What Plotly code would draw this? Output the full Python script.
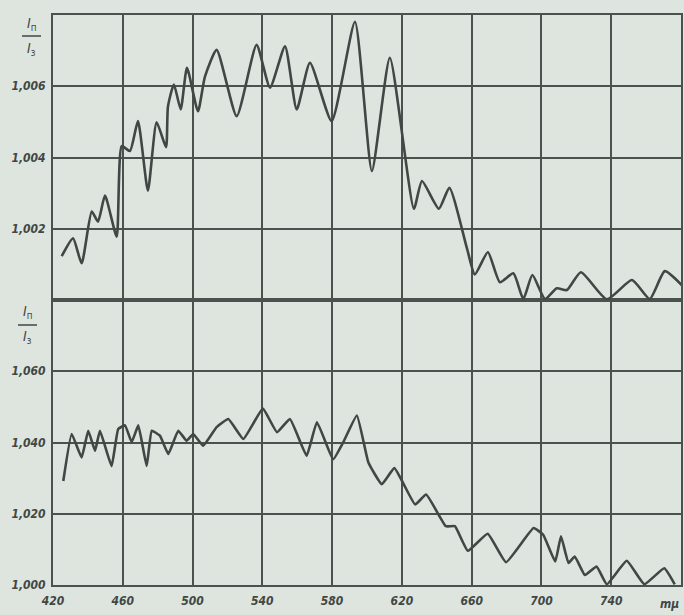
import plotly.graph_objects as go

# ---- data ----
wl_upper = [425.0, 431.5, 436.4, 442.2, 445.8, 449.8, 456.5, 459.4, 464.1, 468.7,
            474.4, 479.4, 484.8, 485.9, 489.3, 493.2, 496.8, 503.1, 507.1, 513.8,
            525.3, 536.7, 544.4, 553.0, 559.7, 567.3, 579.7, 593.1, 602.8, 613.1,
            626.9, 631.5, 641.2, 647.2, 657.3, 661.8, 669.3, 676.2, 683.9, 689.6,
            694.8, 702.0, 708.8, 714.6, 722.6, 737.5, 751.9, 762.1, 770.7, 781.0]
ratio_upper = [1.00123, 1.00173, 1.00103, 1.00248, 1.00220, 1.00293, 1.00178, 1.00432, 1.00418, 1.00502,
               1.00307, 1.00499, 1.00429, 1.00543, 1.00605, 1.00535, 1.00652, 1.00530, 1.00627, 1.00702,
               1.00516, 1.00716, 1.00596, 1.00712, 1.00535, 1.00666, 1.00502, 1.00781, 1.00362, 1.00680,
               1.00256, 1.00334, 1.00256, 1.00315, 1.00145, 1.00072, 1.00134, 1.00050, 1.00075, 1.00003,
               1.00070, 1.00003, 1.00033, 1.00028, 1.00078, 1.00002, 1.00056, 1.00003, 1.00081, 1.00039]

wl_lower = [425.9, 430.7, 436.4, 440.2, 444.1, 446.9, 453.6, 457.4, 461.3, 465.1,
            468.9, 473.7, 476.6, 481.3, 486.1, 491.8, 496.6, 500.4, 506.1, 513.8,
            520.5, 529.1, 540.3, 548.4, 555.8, 565.4, 571.3, 580.6, 586.4, 594.2,
            600.8, 608.5, 615.7, 627.6, 633.9, 645.2, 650.4, 657.8, 669.2, 679.7,
            695.5, 701.0, 707.9, 711.2, 715.5, 719.1, 724.9, 731.6, 737.5, 748.9,
            759.0, 770.4, 776.4]
ratio_lower = [1.0292, 1.0424, 1.0358, 1.0433, 1.0377, 1.0433, 1.0334, 1.0438, 1.0448, 1.0401,
               1.0448, 1.0334, 1.0433, 1.0419, 1.0368, 1.0433, 1.0405, 1.0424, 1.0391, 1.0443,
               1.0466, 1.0410, 1.0495, 1.0429, 1.0466, 1.0363, 1.0457, 1.0353, 1.0401, 1.0476,
               1.0344, 1.0283, 1.0328, 1.0226, 1.0254, 1.0165, 1.0165, 1.0096, 1.0144, 1.0064,
               1.0160, 1.0141, 1.0066, 1.0137, 1.0062, 1.0080, 1.0028, 1.0052, 1.0002, 1.0068,
               1.0002, 1.0047, 1.0002]

x_tickvals = [420, 460, 500, 540, 580, 620, 660, 700, 740, 780]
x_ticktext = ["420", "460", "500", "540", "580", "620", "660", "700", "740", ""]
x_unit = "mμ"
upper_tickvals = [1.000, 1.002, 1.004, 1.006, 1.008]
upper_ticktext = ["", "1,002", "1,004", "1,006", ""]
lower_tickvals = [1.000, 1.020, 1.040, 1.060, 1.080]
lower_ticktext = ["1,000", "1,020", "1,040", "1,060", ""]

# ---- styling ----
BG = "#dee5df"
INK = "#414744"
GRID = "#4b514e"
FAM = "DejaVu Sans Condensed, DejaVu Sans"
FONT = dict(family=FAM, size=12, color=INK, style="italic", weight="bold")

fig = go.Figure()
fig.add_trace(go.Scatter(x=wl_lower, y=ratio_lower, mode="lines", xaxis="x", yaxis="y",
                         line=dict(color=INK, width=2.6, shape="spline", smoothing=0.35),
                         showlegend=False))
fig.add_trace(go.Scatter(x=wl_upper, y=ratio_upper, mode="lines", xaxis="x2", yaxis="y2",
                         line=dict(color=INK, width=2.6, shape="spline", smoothing=0.55),
                         showlegend=False))

common_x = dict(range=[420, 780], tickmode="array", tickvals=x_tickvals, showgrid=True,
                gridcolor=GRID, gridwidth=2, showline=True, linecolor=GRID, linewidth=2,
                mirror=True, zeroline=False, ticks="", fixedrange=True, automargin=False)
common_y = dict(showgrid=True, gridcolor=GRID, gridwidth=2, showline=True, linecolor=GRID,
                linewidth=2, mirror=True, zeroline=False, ticks="", tickfont=FONT,
                fixedrange=True, automargin=False, ticklabelstandoff=3)

fig.update_layout(
    width=684, height=615,
    margin=dict(l=53, r=3, t=15, b=30),
    paper_bgcolor=BG, plot_bgcolor=BG,
    xaxis=dict(**common_x, domain=[0, 1], anchor="y", ticktext=x_ticktext,
               tickfont=FONT, ticklabelstandoff=4),
    xaxis2=dict(**common_x, domain=[0, 1], anchor="y2", matches="x", showticklabels=False),
    yaxis=dict(**common_y, domain=[0, 0.5], anchor="x", range=[1.000, 1.080],
               tickmode="array", tickvals=lower_tickvals, ticktext=lower_ticktext),
    yaxis2=dict(**common_y, domain=[0.5, 1], anchor="x2", range=[1.000, 1.008],
                tickmode="array", tickvals=upper_tickvals, ticktext=upper_ticktext),
)

# unit label at the right end of the wavelength axis
fig.add_annotation(x=0.982, y=-0.034, xref="paper", yref="paper", showarrow=False,
                   xanchor="center", yanchor="middle", text=x_unit, font=FONT)

# fraction labels I_п / I_з  (pixel positions converted to paper coords)
def px(xp):
    return (xp - 53) / 628.0

def py(yp):
    return (585 - yp) / 570.0

def fraction(xc, y_num, y_line, y_den, x0, x1):
    for yy, sub in ((y_num, "п"), (y_den, "з")):
        fig.add_annotation(x=px(xc), y=py(yy), xref="paper", yref="paper", showarrow=False,
                           xanchor="center", yanchor="middle",
                           text="<i>I</i><sub>" + sub + "</sub>",
                           font=dict(family=FAM, size=14, color=INK))
    fig.add_shape(type="line", xref="paper", yref="paper", x0=px(x0), x1=px(x1),
                  y0=py(y_line), y1=py(y_line), line=dict(color=INK, width=1.5))

fraction(31, 24, 36, 49, 22, 41)
fraction(27, 312, 325, 337, 18, 37)

fig.write_html(
    "out.html",
    config={"displayModeBar": False, "staticPlot": True},
    post_script="document.body.style.margin='0';document.body.style.overflow='hidden';"
                "document.body.style.background='" + BG + "';",
)
